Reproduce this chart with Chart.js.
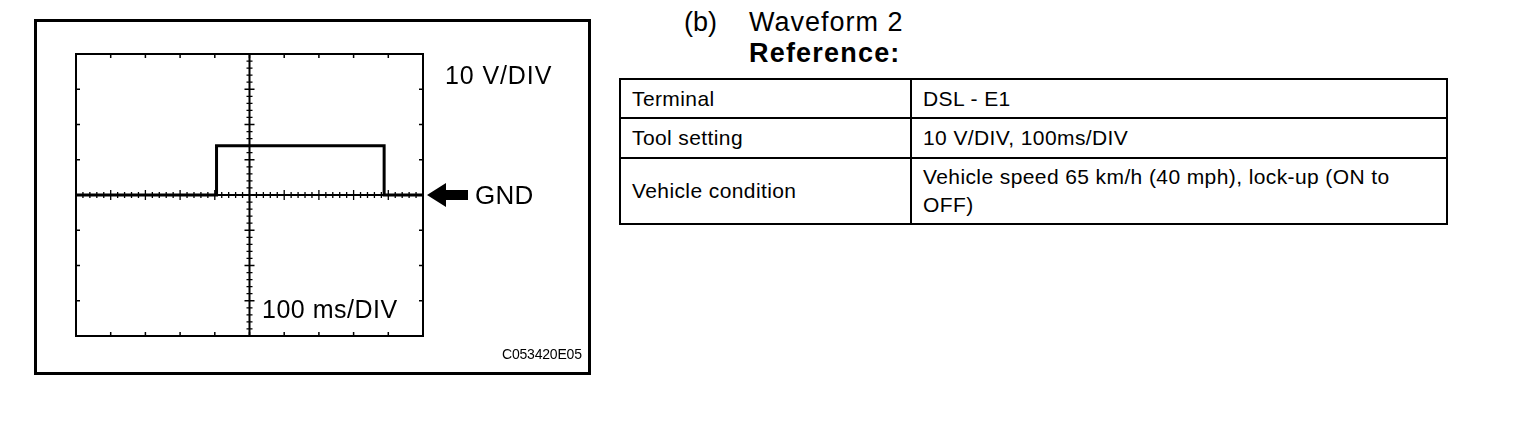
<!DOCTYPE html>
<html>
<head>
<meta charset="utf-8">
<script src="https://cdn.jsdelivr.net/npm/chart.js@4/dist/chart.umd.min.js"></script>
<style>
    body { margin: 0; width: 1536px; height: 424px; background: #fff; position: relative; overflow: hidden;
        font-family: "Liberation Sans", Arial, sans-serif; color: #000; }
    .abs { position: absolute; white-space: nowrap; line-height: 1; }
    #box { position: absolute; left: 34px; top: 19px; width: 551px; height: 350px; border: 3px solid #000; }
    #scope { position: absolute; left: 0; top: 0; }
    #info { position: absolute; left: 619px; top: 78px; border-collapse: collapse; table-layout: fixed; width: 827px; }
    #info td { border: 2px solid #000; padding: 0 0 0 11px; font-size: 21px; letter-spacing: 0.4px; line-height: 28px; vertical-align: middle; }
</style>
</head>
<body>
<div id="box"></div>
<canvas id="scope" width="600" height="424"></canvas>
<div class="abs" id="vdiv" style="left:445px; top:63px; font-size:25px; letter-spacing:0.9px;"></div>
<div class="abs" id="gnd" style="left:475px; top:182px; font-size:26px; letter-spacing:0.3px;">GND</div>
<div class="abs" id="tdiv" style="left:262px; top:297px; font-size:25px; letter-spacing:0.5px;"></div>
<div class="abs" style="left:502px; top:347px; font-size:14px; letter-spacing:-0.2px;">C053420E05</div>
<div class="abs" style="left:684px; top:9px; font-size:27px;">(b)</div>
<div class="abs" style="left:749px; top:9px; font-size:27px; letter-spacing:1px;">Waveform 2</div>
<div class="abs" style="left:749px; top:40px; font-size:27px; font-weight:bold; letter-spacing:1.2px;">Reference:</div>
<table id="info"></table>
<script>
// waveform
const timeMs = [0, 405, 405, 888, 888, 1000];
const volts = [0, 0, 14, 14, 0, 0];

// scope settings
const voltsPerDiv = 10;
const msPerDiv = 100;
const xDivs = 10;
const yDivs = 8;
const subDivs = 5;

// table rows
const rowLabels = ['Terminal', 'Tool setting', 'Vehicle condition'];
const rowValues = ['DSL - E1', '10 V/DIV, 100ms/DIV', 'Vehicle speed 65 km/h (40 mph), lock-up (ON to<br>OFF)'];
const rowHeights = [39, 40, 66];

document.querySelector('#vdiv').innerText = `${voltsPerDiv} V/DIV`;
document.querySelector('#tdiv').innerText = `${msPerDiv} ms/DIV`;

let info = document.querySelector('#info');
info.innerHTML = '<col style="width:291px"><col style="width:536px">';
for(let i = 0; i < rowLabels.length; i++) {
    let tr = document.createElement('tr');
    tr.style.height = rowHeights[i] + 'px';
    tr.innerHTML = `<td>${rowLabels[i]}</td><td>${rowValues[i]}</td>`;
    info.append(tr);
}

const scopeFrame = {
    id: 'scopeFrame',
    beforeDatasetsDraw(chart) {
        let ctx = chart.ctx;
        let x = chart.scales.x, y = chart.scales.y;
        let a = chart.chartArea;
        ctx.save();
        ctx.strokeStyle = '#000';
        ctx.lineWidth = 2;
        ctx.strokeRect(a.left, a.top, a.right - a.left, a.bottom - a.top);

        ctx.lineWidth = 1.5;
        ctx.beginPath();
        // major ticks on the frame, pointing inward
        for(let i = 1; i < xDivs; i++) {
            let px = x.getPixelForValue(i * msPerDiv);
            ctx.moveTo(px, a.top); ctx.lineTo(px, a.top + 4);
            ctx.moveTo(px, a.bottom); ctx.lineTo(px, a.bottom - 4);
        }
        for(let i = 1; i < yDivs; i++) {
            let py = y.getPixelForValue(-yDivs / 2 * voltsPerDiv + i * voltsPerDiv);
            ctx.moveTo(a.left, py); ctx.lineTo(a.left + 4, py);
            ctx.moveTo(a.right, py); ctx.lineTo(a.right - 4, py);
        }
        ctx.stroke();

        // centre cross
        let cx = x.getPixelForValue(xDivs / 2 * msPerDiv);
        let cy = y.getPixelForValue(0);
        ctx.lineWidth = 2;
        ctx.beginPath();
        ctx.moveTo(cx, a.top); ctx.lineTo(cx, a.bottom);
        ctx.moveTo(a.left, cy); ctx.lineTo(a.right, cy);
        ctx.stroke();

        ctx.lineWidth = 1.3;
        ctx.beginPath();
        for(let i = 1; i < xDivs * subDivs; i++) {
            let px = x.getPixelForValue(i * msPerDiv / subDivs);
            let len = i % subDivs == 0 ? 5 : 3;
            ctx.moveTo(px, cy - len); ctx.lineTo(px, cy + len);
        }
        for(let i = 1; i < yDivs * subDivs; i++) {
            let py = y.getPixelForValue(-yDivs / 2 * voltsPerDiv + i * voltsPerDiv / subDivs);
            let len = i % subDivs == 0 ? 5 : 3;
            ctx.moveTo(cx - len, py); ctx.lineTo(cx + len, py);
        }
        ctx.stroke();
        ctx.restore();
    },
    afterDraw(chart) {
        // GND arrow
        let ctx = chart.ctx;
        let a = chart.chartArea;
        let gy = chart.scales.y.getPixelForValue(0);
        let tip = a.right + 4;
        ctx.save();
        ctx.fillStyle = '#000';
        ctx.beginPath();
        ctx.moveTo(tip, gy);
        ctx.lineTo(tip + 19, gy - 12);
        ctx.lineTo(tip + 19, gy - 5);
        ctx.lineTo(tip + 41, gy - 5);
        ctx.lineTo(tip + 41, gy + 5);
        ctx.lineTo(tip + 19, gy + 5);
        ctx.lineTo(tip + 19, gy + 12);
        ctx.closePath();
        ctx.fill();
        ctx.restore();
    }
};

new Chart(document.getElementById('scope').getContext('2d'), {
    type: 'line',
    data: {
        datasets: [{
            data: timeMs.map((t, i) => ({x: t, y: volts[i]})),
            borderColor: '#000',
            borderWidth: 3,
            pointRadius: 0,
            tension: 0,
            fill: false
        }]
    },
    options: {
        responsive: false,
        animation: false,
        layout: {padding: {left: 76, top: 54, right: 177, bottom: 88}},
        plugins: {legend: {display: false}, tooltip: {enabled: false}},
        scales: {
            x: {type: 'linear', min: 0, max: xDivs * msPerDiv, display: false},
            y: {min: -yDivs / 2 * voltsPerDiv, max: yDivs / 2 * voltsPerDiv, display: false}
        }
    },
    plugins: [scopeFrame]
});
</script>
</body>
</html>
